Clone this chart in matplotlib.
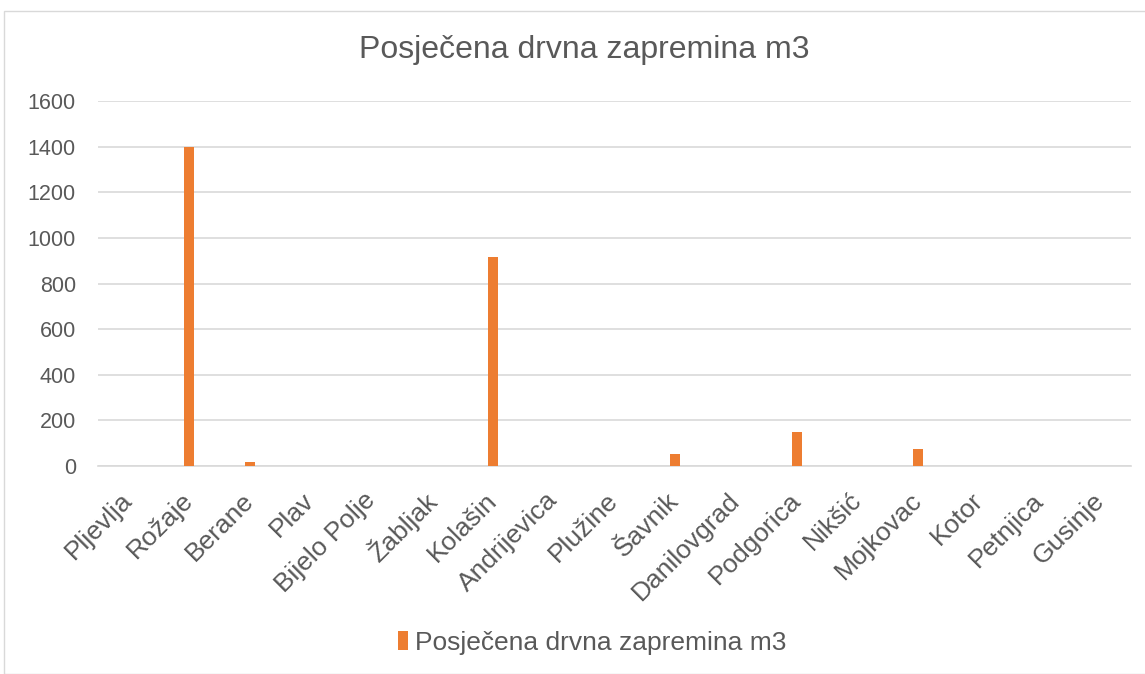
import matplotlib
matplotlib.use("Agg")
import matplotlib.pyplot as plt
from matplotlib.patches import Rectangle

categories = ["Pljevlja", "Rožaje", "Berane", "Plav", "Bijelo Polje", "Žabljak", "Kolašin",
              "Andrijevica", "Plužine", "Šavnik", "Danilovgrad", "Podgorica", "Nikšić",
              "Mojkovac", "Kotor", "Petnjica", "Gusinje"]
values = [2, 1400, 19, 0, 0, 0, 916, 0, 0, 53, 0, 150, 0, 73, 0, 0, 0]
series_name = "Posječena drvna zapremina m3"
yticks = [0, 200, 400, 600, 800, 1000, 1200, 1400, 1600]

plt.rcParams['font.family'] = ['Liberation Sans', 'DejaVu Sans']
txt = '#595959'
orange = '#ED7D31'

fig = plt.figure(figsize=(11.45, 6.74), dpi=100)
fig.patches.append(Rectangle((4/1145, 0), 1 - 4/1145 + 0.01, 1 - 11/674, transform=fig.transFigure,
                             fill=False, edgecolor='#D9D9D9', linewidth=1.0))
ax = fig.add_axes([98/1145, 1 - 466/674, (1131-98)/1145, (466-101)/674])
x = list(range(len(categories)))
ax.bar(x, values, width=0.17, color=orange, label=series_name, zorder=3)
ax.set_xlim(-0.5, len(categories) - 0.5)
ax.set_ylim(0, 1600)
ax.set_yticks(yticks)
ax.set_yticklabels([str(v) for v in yticks], fontsize=15.5, color=txt)
ax.set_xticks(x)
ax.set_xticklabels(categories, rotation=45, ha='right', va='center', rotation_mode='anchor',
                   fontsize=19, color=txt)
ax.tick_params(axis='y', length=0, pad=16)
ax.tick_params(axis='x', length=0, pad=22)
ax.yaxis.grid(True, color='#D9D9D9', linewidth=1.2, zorder=0)
for s in ['top', 'right', 'left']:
    ax.spines[s].set_visible(False)
ax.spines['bottom'].set_color('#D9D9D9')
ax.spines['bottom'].set_linewidth(1.2)
fig.text(584/1145, 1 - 50/674, series_name, ha='center', va='center', fontsize=23, color=txt)
leg = fig.legend(loc='center', bbox_to_anchor=(592/1145, 1 - 643/674), frameon=False,
                 fontsize=19, handlelength=0.4, handleheight=0.75, handletextpad=0.25)
for t in leg.get_texts():
    t.set_color(txt)
fig.savefig("out.png", dpi=100)
